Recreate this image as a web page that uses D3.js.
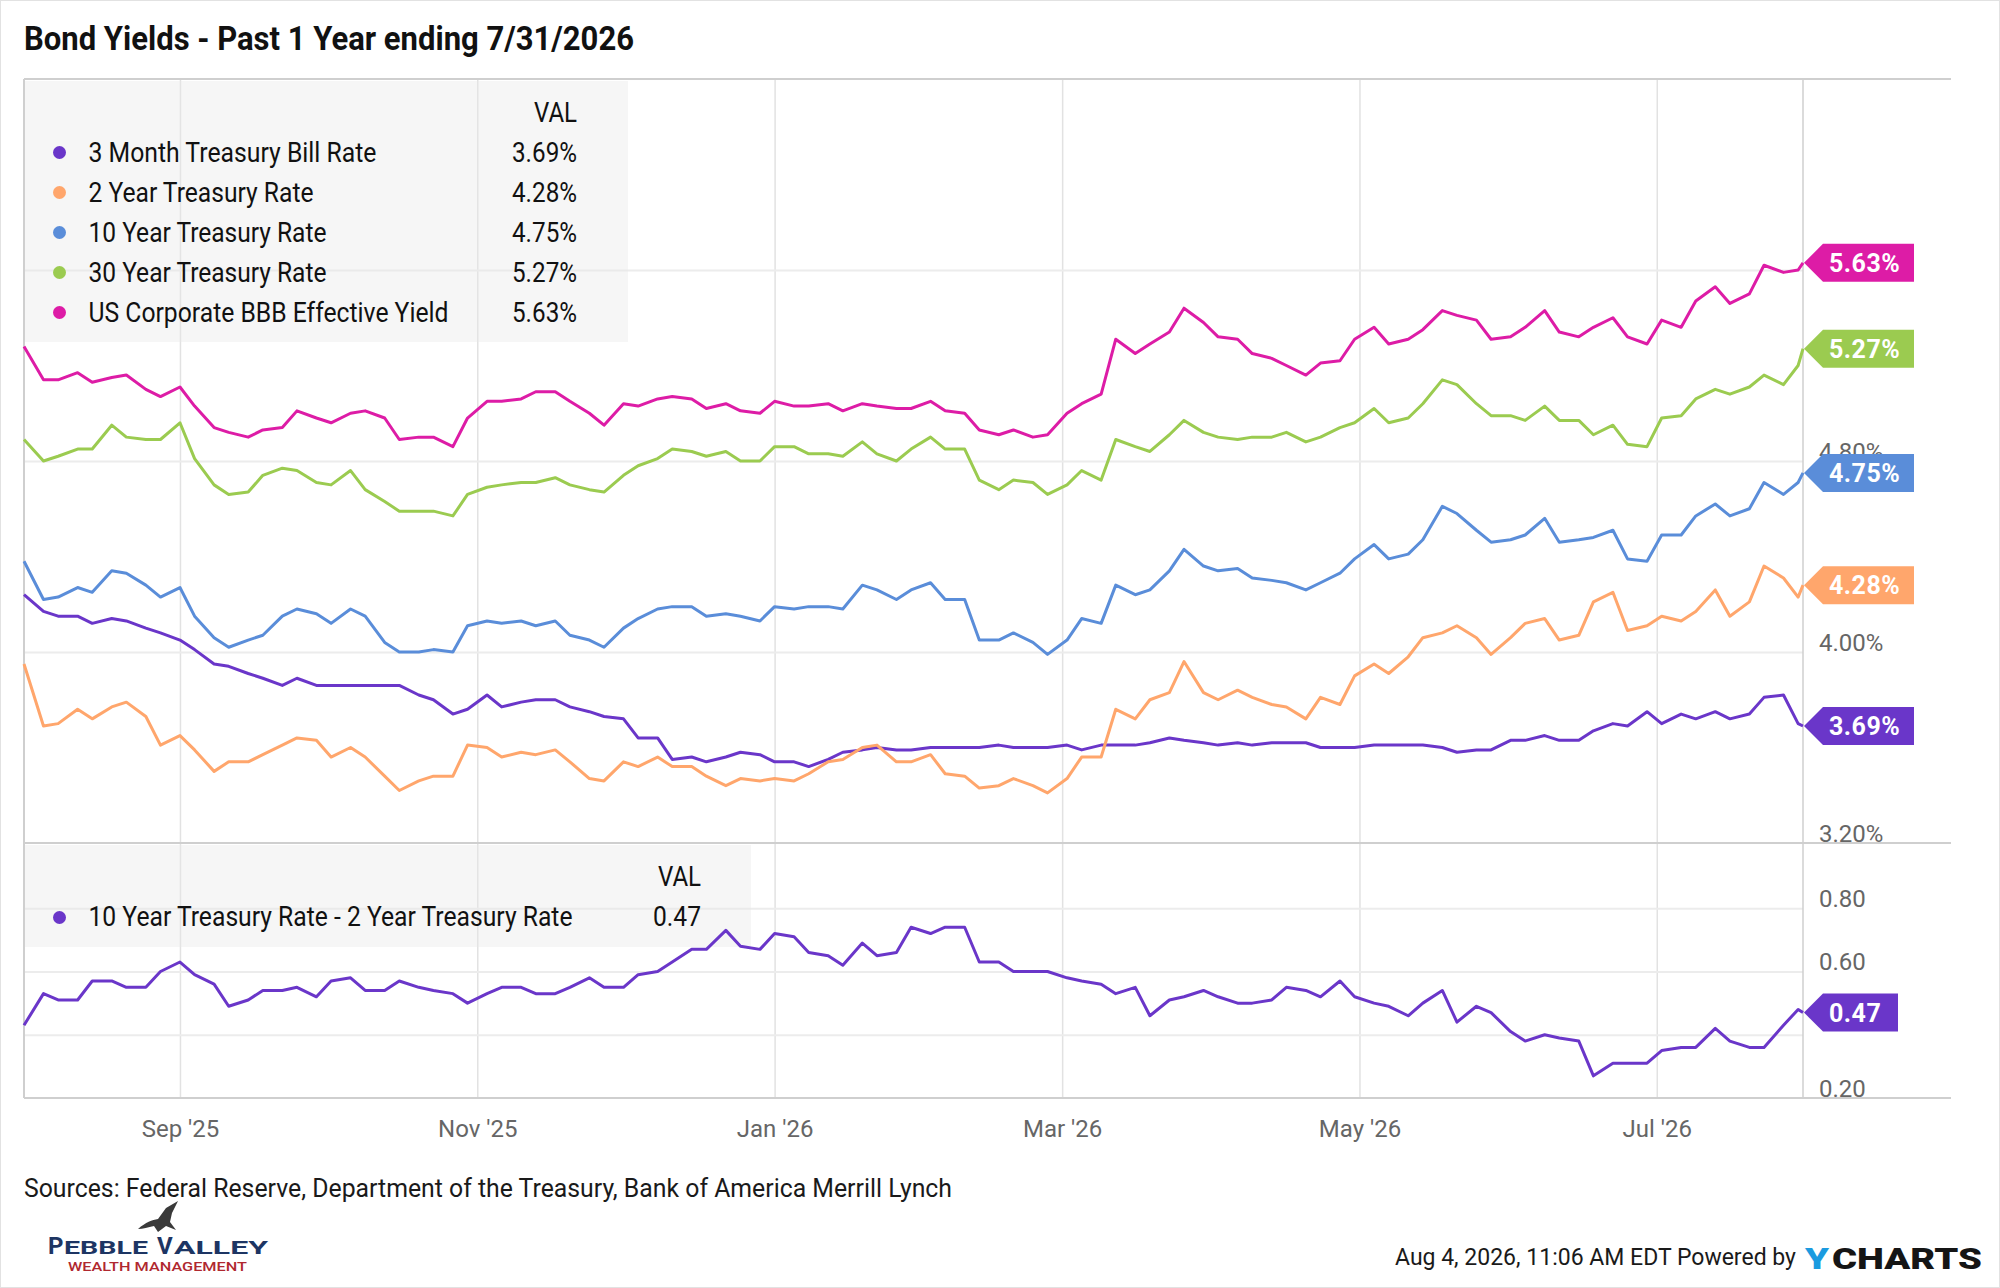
<!DOCTYPE html>
<html>
<head>
<meta charset="utf-8">
<script src="https://cdn.jsdelivr.net/npm/d3@7"></script>
<style>
  body { margin: 0; background: #fff; }
  text { font-family: Roboto, "Noto Sans", sans-serif; }
</style>
</head>
<body>
<svg width="2000" height="1288"></svg>
<script>
// observation dates (Thursdays and Mondays, last one is the final day)
var dates = [
  "2025-07-31","2025-08-04","2025-08-07","2025-08-11","2025-08-14","2025-08-18","2025-08-21","2025-08-25","2025-08-28","2025-09-01",
  "2025-09-04","2025-09-08","2025-09-11","2025-09-15","2025-09-18","2025-09-22","2025-09-25","2025-09-29","2025-10-02","2025-10-06",
  "2025-10-09","2025-10-13","2025-10-16","2025-10-20","2025-10-23","2025-10-27","2025-10-30","2025-11-03","2025-11-06","2025-11-10",
  "2025-11-13","2025-11-17","2025-11-20","2025-11-24","2025-11-27","2025-12-01","2025-12-04","2025-12-08","2025-12-11","2025-12-15",
  "2025-12-18","2025-12-22","2025-12-25","2025-12-29","2026-01-01","2026-01-05","2026-01-08","2026-01-12","2026-01-15","2026-01-19",
  "2026-01-22","2026-01-26","2026-01-29","2026-02-02","2026-02-05","2026-02-09","2026-02-12","2026-02-16","2026-02-19","2026-02-23",
  "2026-02-26","2026-03-02","2026-03-05","2026-03-09","2026-03-12","2026-03-16","2026-03-19","2026-03-23","2026-03-26","2026-03-30",
  "2026-04-02","2026-04-06","2026-04-09","2026-04-13","2026-04-16","2026-04-20","2026-04-23","2026-04-27","2026-04-30","2026-05-04",
  "2026-05-07","2026-05-11","2026-05-14","2026-05-18","2026-05-21","2026-05-25","2026-05-28","2026-06-01","2026-06-04","2026-06-08",
  "2026-06-11","2026-06-15","2026-06-18","2026-06-22","2026-06-25","2026-06-29","2026-07-02","2026-07-06","2026-07-09","2026-07-13",
  "2026-07-16","2026-07-20","2026-07-23","2026-07-27","2026-07-30","2026-07-31"];

// series values (%)
var bill3m = [
  4.24,4.17,4.15,4.15,4.12,4.14,4.13,4.10,4.08,4.05,
  4.01,3.95,3.94,3.91,3.89,3.86,3.89,3.86,3.86,3.86,
  3.86,3.86,3.86,3.82,3.80,3.74,3.76,3.82,3.77,3.79,
  3.80,3.80,3.77,3.75,3.73,3.72,3.64,3.64,3.55,3.56,
  3.54,3.56,3.58,3.57,3.54,3.54,3.52,3.55,3.58,3.59,
  3.60,3.59,3.59,3.60,3.60,3.60,3.60,3.61,3.60,3.60,
  3.60,3.61,3.59,3.61,3.61,3.61,3.62,3.64,3.63,3.62,
  3.61,3.62,3.61,3.62,3.62,3.62,3.60,3.60,3.60,3.61,
  3.61,3.61,3.61,3.60,3.58,3.59,3.59,3.63,3.63,3.65,
  3.63,3.63,3.67,3.70,3.69,3.75,3.70,3.74,3.72,3.75,
  3.72,3.74,3.81,3.82,3.70,3.69];
var treas2y = [
  3.95,3.69,3.70,3.76,3.72,3.77,3.79,3.73,3.61,3.65,
  3.59,3.50,3.54,3.54,3.57,3.61,3.64,3.63,3.56,3.60,
  3.56,3.48,3.42,3.46,3.48,3.48,3.61,3.60,3.56,3.58,
  3.57,3.59,3.54,3.47,3.46,3.54,3.52,3.56,3.52,3.52,
  3.48,3.44,3.47,3.46,3.47,3.46,3.49,3.54,3.55,3.60,
  3.61,3.54,3.54,3.57,3.49,3.48,3.43,3.44,3.47,3.44,
  3.41,3.47,3.56,3.56,3.76,3.72,3.80,3.83,3.96,3.83,
  3.80,3.84,3.81,3.78,3.77,3.72,3.81,3.78,3.90,3.95,
  3.91,3.98,4.06,4.08,4.11,4.06,3.99,4.06,4.12,4.14,
  4.05,4.07,4.21,4.25,4.09,4.11,4.15,4.13,4.17,4.26,
  4.15,4.21,4.36,4.31,4.23,4.28];
var treas10y = [
  4.38,4.22,4.23,4.27,4.25,4.34,4.33,4.28,4.23,4.27,
  4.15,4.06,4.02,4.05,4.07,4.15,4.18,4.16,4.12,4.18,
  4.15,4.04,4.00,4.00,4.01,4.00,4.11,4.13,4.12,4.13,
  4.11,4.13,4.07,4.05,4.02,4.10,4.14,4.18,4.19,4.19,
  4.15,4.16,4.15,4.13,4.19,4.18,4.19,4.19,4.18,4.28,
  4.26,4.22,4.26,4.29,4.22,4.22,4.05,4.05,4.08,4.04,
  3.99,4.05,4.14,4.12,4.28,4.24,4.26,4.34,4.43,4.36,
  4.34,4.35,4.31,4.30,4.29,4.26,4.29,4.33,4.39,4.45,
  4.39,4.41,4.47,4.61,4.58,4.51,4.46,4.47,4.49,4.56,
  4.46,4.47,4.48,4.51,4.39,4.38,4.49,4.49,4.57,4.62,
  4.57,4.60,4.71,4.66,4.71,4.75];
var treas30y = [
  4.89,4.80,4.82,4.85,4.85,4.95,4.90,4.89,4.89,4.96,
  4.81,4.70,4.66,4.67,4.74,4.77,4.76,4.71,4.70,4.76,
  4.68,4.63,4.59,4.59,4.59,4.57,4.66,4.69,4.70,4.71,
  4.71,4.73,4.70,4.68,4.67,4.74,4.78,4.81,4.85,4.84,
  4.82,4.84,4.80,4.80,4.86,4.86,4.83,4.83,4.82,4.88,
  4.83,4.80,4.85,4.90,4.85,4.85,4.72,4.68,4.72,4.71,
  4.66,4.70,4.76,4.72,4.89,4.86,4.84,4.91,4.97,4.92,
  4.90,4.89,4.90,4.90,4.92,4.88,4.90,4.94,4.96,5.02,
  4.96,4.98,5.04,5.14,5.12,5.04,4.99,4.99,4.97,5.03,
  4.97,4.97,4.91,4.95,4.87,4.86,4.98,4.99,5.06,5.10,
  5.08,5.11,5.16,5.12,5.20,5.27];
var corpBBB = [
  5.28,5.14,5.14,5.17,5.13,5.15,5.16,5.10,5.07,5.11,
  5.03,4.94,4.92,4.90,4.93,4.94,5.01,4.98,4.96,5.00,
  5.01,4.98,4.89,4.90,4.90,4.86,4.98,5.05,5.05,5.06,
  5.09,5.09,5.05,5.00,4.95,5.04,5.03,5.06,5.07,5.06,
  5.02,5.04,5.01,5.00,5.05,5.03,5.03,5.04,5.01,5.04,
  5.03,5.02,5.02,5.05,5.01,5.00,4.93,4.91,4.93,4.90,
  4.91,5.00,5.04,5.08,5.31,5.25,5.29,5.34,5.44,5.38,
  5.32,5.31,5.25,5.23,5.20,5.16,5.21,5.22,5.31,5.36,
  5.29,5.31,5.35,5.43,5.41,5.39,5.31,5.32,5.36,5.43,
  5.34,5.32,5.36,5.40,5.32,5.29,5.39,5.36,5.47,5.53,
  5.46,5.50,5.62,5.59,5.60,5.63];
var spread = [
  0.43,0.53,0.51,0.51,0.57,0.57,0.55,0.55,0.60,0.63,
  0.59,0.56,0.49,0.51,0.54,0.54,0.55,0.52,0.57,0.58,
  0.54,0.54,0.57,0.55,0.54,0.53,0.50,0.53,0.55,0.55,
  0.53,0.53,0.55,0.58,0.55,0.55,0.59,0.60,0.63,0.67,
  0.67,0.73,0.68,0.67,0.72,0.71,0.66,0.65,0.62,0.69,
  0.65,0.66,0.74,0.72,0.74,0.74,0.63,0.63,0.60,0.60,
  0.60,0.58,0.57,0.56,0.53,0.55,0.46,0.51,0.52,0.54,
  0.52,0.50,0.50,0.51,0.55,0.54,0.52,0.57,0.52,0.50,
  0.49,0.46,0.50,0.54,0.44,0.49,0.47,0.41,0.38,0.40,
  0.39,0.38,0.27,0.31,0.31,0.31,0.35,0.36,0.36,0.42,
  0.38,0.36,0.36,0.43,0.48,0.47];

var seriesNames = ["3 Month Treasury Bill Rate","2 Year Treasury Rate","10 Year Treasury Rate","30 Year Treasury Rate","US Corporate BBB Effective Yield"];
var spreadName = "10 Year Treasury Rate - 2 Year Treasury Rate";
var monthTicks = ["2025-09-01","2025-11-01","2026-01-01","2026-03-01","2026-05-01","2026-07-01"];
var topGrid = [4.0, 4.8, 5.6];
var bottomGrid = [0.4, 0.6, 0.8];
// labels that are not hidden behind the end tags
var topLabels = [3.2, 4.0, 4.8];
var bottomLabels = [0.2, 0.6, 0.8];

// styles / layout
var colors = ["#6a36c9","#ffa66c","#5a8dd9","#9bcb50","#dd1ca6"];
var spreadColor = "#6a36c9";
var labelWidths = [288, 225, 238, 238, 360];

var parse = d3.timeParse("%Y-%m-%d");
var dt = dates.map(parse);
var svg = d3.select("svg");

var L = 24, R = 1803, OUTER = 1951;
var x = d3.scaleTime().domain([parse("2025-07-31"), parse("2026-07-31")]).range([L, R]);
var yTop = d3.scaleLinear().domain([3.2, 6.4]).range([843, 79]);
var yBot = d3.scaleLinear().domain([0.2, 1.0]).range([1098, 845]);

svg.append("rect").attr("x", 0.5).attr("y", 0.5).attr("width", 1999).attr("height", 1287)
  .attr("fill", "#fff").attr("stroke", "#e2e2e2");

// title
svg.append("text").attr("x", 24).attr("y", 50)
  .attr("font-size", 33).attr("font-weight", 700).attr("fill", "#111")
  .attr("textLength", 610).attr("lengthAdjust", "spacingAndGlyphs")
  .text("Bond Yields - Past 1 Year ending 7/31/2026");

// vertical month gridlines
var vg = svg.append("g").attr("transform", "translate(0,1098)")
  .call(d3.axisBottom(x).tickValues(monthTicks.map(parse)).tickSize(-(1098 - 80)).tickFormat(""));
vg.select(".domain").remove();
vg.selectAll("line").attr("stroke", "#e2e2e2").attr("stroke-width", 1.5);

// horizontal gridlines
function hGrid(scale, ticks) {
  var g = svg.append("g").attr("transform", "translate(" + L + ",0)")
    .call(d3.axisLeft(scale).tickValues(ticks).tickSize(-(R - L)).tickFormat(""));
  g.select(".domain").remove();
  g.selectAll("line").attr("stroke", "#ececec").attr("stroke-width", 2);
}
hGrid(yTop, topGrid);
hGrid(yBot, bottomGrid);

// legend backgrounds (see-through)
svg.append("rect").attr("x", L).attr("y", 81).attr("width", 604).attr("height", 261)
  .attr("fill", "#e9e9e9").attr("opacity", 0.4);
svg.append("rect").attr("x", L).attr("y", 845).attr("width", 727).attr("height", 102)
  .attr("fill", "#e9e9e9").attr("opacity", 0.4);

// frame lines
var frame = svg.append("g").attr("stroke", "#cfcfcf").attr("stroke-width", 2);
[79, 843, 1098].forEach(function(yy) {
  frame.append("line").attr("x1", L).attr("x2", OUTER).attr("y1", yy).attr("y2", yy);
});
frame.append("line").attr("x1", L).attr("x2", L).attr("y1", 79).attr("y2", 1098);
frame.append("line").attr("x1", R).attr("x2", R).attr("y1", 79).attr("y2", 1098).attr("stroke-width", 1.5);

// lines
var allSeries = [bill3m, treas2y, treas10y, treas30y, corpBBB];
var lineTop = d3.line().x(function(d, i) { return x(dt[i]); }).y(function(d) { return yTop(d); });
var lineBot = d3.line().x(function(d, i) { return x(dt[i]); }).y(function(d) { return yBot(d); });

svg.append("g").selectAll("path").data(allSeries).enter().append("path")
  .attr("d", lineTop).attr("fill", "none")
  .attr("stroke", function(d, i) { return colors[i]; })
  .attr("stroke-width", 3).attr("stroke-linejoin", "round");
svg.append("path").datum(spread).attr("d", lineBot).attr("fill", "none")
  .attr("stroke", spreadColor).attr("stroke-width", 3).attr("stroke-linejoin", "round");

// y axis labels (right side)
function yLabels(scale, ticks, fmt) {
  var g = svg.append("g").attr("transform", "translate(1819,0)")
    .call(d3.axisRight(scale).tickValues(ticks).tickSize(0).tickPadding(0).tickFormat(fmt));
  g.select(".domain").remove();
  g.selectAll("text").attr("dy", null).attr("y", -2).attr("x", 0)
    .attr("font-size", 24).attr("fill", "#666").attr("font-family", "Roboto");
}
yLabels(yTop, topLabels, function(d) { return d3.format(".2f")(d) + "%"; });
yLabels(yBot, bottomLabels, d3.format(".2f"));

// x axis labels
var xa = svg.append("g").attr("transform", "translate(0,1098)")
  .call(d3.axisBottom(x).tickValues(monthTicks.map(parse)).tickSize(0).tickPadding(22)
    .tickFormat(d3.timeFormat("%b '%y")));
xa.select(".domain").remove();
xa.selectAll("text").attr("font-size", 24).attr("fill", "#666").attr("font-family", "Roboto");

// top legend
var leg = svg.append("g").attr("font-size", 27).attr("fill", "#111");
leg.append("text").attr("x", 577).attr("y", 121.5).attr("text-anchor", "end")
  .attr("textLength", 43).attr("lengthAdjust", "spacingAndGlyphs").text("VAL");
seriesNames.forEach(function(name, i) {
  var cy = 152.5 + i * 40;
  leg.append("circle").attr("cx", 59.5).attr("cy", cy).attr("r", 6.5).attr("fill", colors[i]);
  leg.append("text").attr("x", 88.5).attr("y", cy + 9)
    .attr("textLength", labelWidths[i]).attr("lengthAdjust", "spacingAndGlyphs").text(name);
  var last = allSeries[i][allSeries[i].length - 1];
  leg.append("text").attr("x", 577).attr("y", cy + 9).attr("text-anchor", "end")
    .attr("textLength", 65).attr("lengthAdjust", "spacingAndGlyphs").text(d3.format(".2f")(last) + "%");
});

// bottom legend
var leg2 = svg.append("g").attr("font-size", 27).attr("fill", "#111");
leg2.append("text").attr("x", 701).attr("y", 885.5).attr("text-anchor", "end")
  .attr("textLength", 43).attr("lengthAdjust", "spacingAndGlyphs").text("VAL");
leg2.append("circle").attr("cx", 59.5).attr("cy", 917.5).attr("r", 6.5).attr("fill", spreadColor);
leg2.append("text").attr("x", 88.5).attr("y", 926)
  .attr("textLength", 484).attr("lengthAdjust", "spacingAndGlyphs").text(spreadName);
leg2.append("text").attr("x", 701).attr("y", 926).attr("text-anchor", "end")
  .attr("textLength", 48).attr("lengthAdjust", "spacingAndGlyphs")
  .text(d3.format(".2f")(spread[spread.length - 1]));

// end-of-line value tags
function tag(cy, color, label, bodyW) {
  var g = svg.append("g");
  var h = 19, tip = R + 1, b = R + 20;
  g.append("path")
    .attr("d", "M" + tip + "," + cy + "L" + b + "," + (cy - h) + "L" + (b + bodyW) + "," + (cy - h) +
      "L" + (b + bodyW) + "," + (cy + h) + "L" + b + "," + (cy + h) + "Z")
    .attr("fill", color);
  g.append("text").attr("x", b + 6).attr("y", cy + 9).attr("font-size", 25).attr("font-weight", 700)
    .attr("fill", "#fff").attr("letter-spacing", 0.5).text(label);
}
allSeries.forEach(function(s, i) {
  var last = s[s.length - 1];
  tag(yTop(last), colors[i], d3.format(".2f")(last) + "%", 91);
});
tag(yBot(spread[spread.length - 1]), spreadColor, d3.format(".2f")(spread[spread.length - 1]), 75);

// footer
svg.append("text").attr("x", 24).attr("y", 1197).attr("font-size", 25).attr("fill", "#1a1a1a")
  .attr("textLength", 928).attr("lengthAdjust", "spacingAndGlyphs")
  .text("Sources: Federal Reserve, Department of the Treasury, Bank of America Merrill Lynch");

svg.append("text").attr("x", 1796).attr("y", 1265).attr("text-anchor", "end")
  .attr("font-size", 24).attr("fill", "#1a1a1a")
  .attr("textLength", 401).attr("lengthAdjust", "spacingAndGlyphs")
  .text("Aug 4, 2026, 11:06 AM EDT Powered by");

svg.append("text").attr("x", 1805).attr("y", 1269).attr("font-size", 29).attr("font-weight", 900)
  .attr("fill", "#1b9be0").attr("textLength", 24).attr("lengthAdjust", "spacingAndGlyphs").text("Y");
svg.append("text").attr("x", 1832).attr("y", 1269).attr("font-size", 29).attr("font-weight", 900)
  .attr("fill", "#151515").attr("textLength", 150).attr("lengthAdjust", "spacingAndGlyphs").text("CHARTS");

// logo
svg.append("path")
  .attr("d", "M138,1229 C146,1222 152,1220 158,1219 L166,1208 L178,1201 L172,1213 L170,1222 L176,1230 L166,1226 L158,1232 L154,1226 C148,1227 143,1229 138,1229 Z")
  .attr("fill", "#3a3a3a");
var logo = svg.append("g").attr("font-weight", 700).attr("fill", "#1d3563");
logo.append("text").attr("x", 48).attr("y", 1254).attr("font-size", 24).text("P");
logo.append("text").attr("x", 64).attr("y", 1254).attr("font-size", 19)
  .attr("textLength", 84).attr("lengthAdjust", "spacingAndGlyphs").text("EBBLE");
logo.append("text").attr("x", 157).attr("y", 1254).attr("font-size", 24).text("V");
logo.append("text").attr("x", 174).attr("y", 1254).attr("font-size", 19)
  .attr("textLength", 94).attr("lengthAdjust", "spacingAndGlyphs").text("ALLEY");
svg.append("text").attr("x", 68).attr("y", 1271).attr("font-size", 12.5).attr("font-weight", 500)
  .attr("fill", "#b0282f").attr("textLength", 179).attr("lengthAdjust", "spacingAndGlyphs")
  .text("WEALTH MANAGEMENT");
</script>
</body>
</html>
